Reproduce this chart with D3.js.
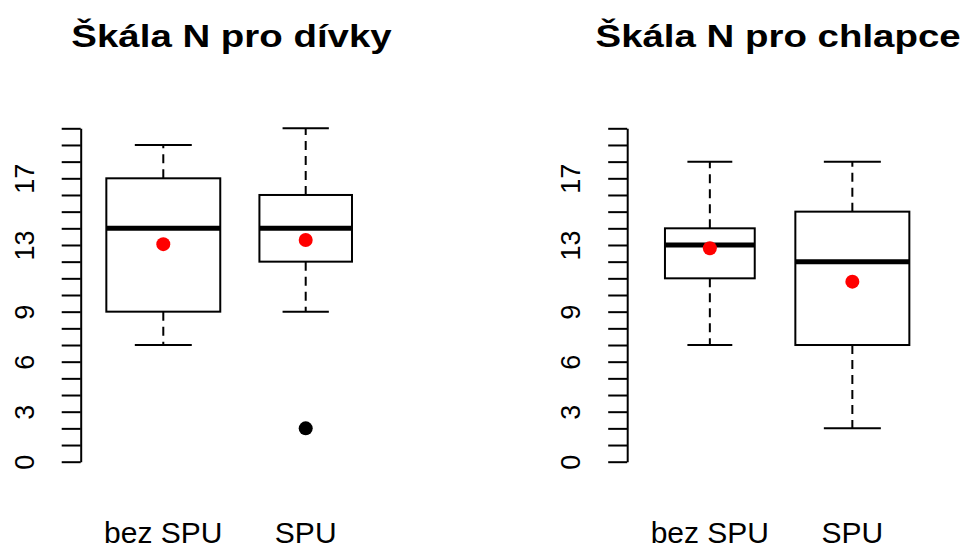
<!DOCTYPE html>
<html>
<head>
<meta charset="utf-8">
<script src="https://cdn.jsdelivr.net/npm/d3@7"></script>
<style>
  body { margin: 0; background: #fff; }
  svg { display: block; }
</style>
</head>
<body>
<div id="chart"></div>
<script>
// data
const groups = ["bez SPU", "SPU"]
const yTickLabels = [0, 3, 6, 9, 13, 17]
const yTicks = [0, 1, 2, 3, 4, 5, 6, 7, 8, 9, 10, 11, 12, 13, 14, 15, 16, 17, 18, 19, 20]

const girlsTitle = "Škála N pro dívky"
const girlsLow = [7, 9]
const girlsQ1 = [9, 12]
const girlsMedian = [14, 14]
const girlsQ3 = [17, 16]
const girlsHigh = [19, 20]
const girlsMean = [13.05, 13.3]
const girlsOutliers = [[], [2]]

const boysTitle = "Škála N pro chlapce"
const boysLow = [7, 2]
const boysQ1 = [11, 7]
const boysMedian = [13, 12]
const boysQ3 = [14, 15]
const boysHigh = [18, 18]
const boysMean = [12.8, 10.8]
const boysOutliers = [[], []]

const WIDTH = 967
const HEIGHT = 551
const FONT = "'Liberation Sans', Arial, sans-serif"

// relative box widths (varwidth look)
const girlsBoxW = [0.8, 0.65]
const boysBoxW = [0.63, 0.8]

const svg = d3.select("#chart")
    .append("svg")
        .attr("width", WIDTH)
        .attr("height", HEIGHT)

const y = d3.scaleLinear()
    .domain([0, 20])
    .range([461.7, 128.3])

function toRows(low, q1, med, q3, high, mean, outs, widths) {
    return groups.map((g, i) => ({
        group: g, low: low[i], q1: q1[i], median: med[i], q3: q3[i],
        high: high[i], mean: mean[i], outliers: outs[i], w: widths[i]
    }))
}

const panels = [
    { title: girlsTitle, left: 80.7, right: 388.3,
      rows: toRows(girlsLow, girlsQ1, girlsMedian, girlsQ3, girlsHigh, girlsMean, girlsOutliers, girlsBoxW) },
    { title: boysTitle, left: 627.2, right: 935,
      rows: toRows(boysLow, boysQ1, boysMedian, boysQ3, boysHigh, boysMean, boysOutliers, boysBoxW) }
]

panels.forEach(p => {
    const g = svg.append("g")

    const x = d3.scaleLinear()
        .domain([0.42, 2.58])
        .range([p.left, p.right])
    const unit = x(2) - x(1)
    const cx = d => x(groups.indexOf(d.group) + 1)

    // title
    g.append("text")
        .attr("transform", `translate(${(p.left + p.right) / 2 - 3}, 47) scale(1.24, 1)`)
        .attr("text-anchor", "middle")
        .attr("font-family", FONT)
        .attr("font-weight", "bold")
        .attr("font-size", 31)
        .text(p.title)

    // y axis
    const yAxisCall = d3.axisLeft(y)
        .tickValues(yTicks)
        .tickSize(19)
        .tickSizeOuter(0)
        .tickFormat(d => yTickLabels.includes(d) ? d : "")
    const ax = g.append("g")
        .attr("transform", `translate(${p.left}, 0)`)
        .call(yAxisCall)
    ax.select(".domain").attr("stroke-width", 2)
    ax.selectAll(".tick line").attr("stroke-width", 2)
    ax.selectAll(".tick text")
        .attr("x", null).attr("dy", null)
        .attr("transform", "translate(-47, 0) rotate(-90)")
        .attr("text-anchor", "middle")
        .attr("font-family", FONT)
        .attr("font-size", 27)
        .attr("fill", "#000")

    // x labels
    g.selectAll(".xlab")
        .data(p.rows)
        .enter().append("text")
            .attr("x", cx)
            .attr("y", 543)
            .attr("text-anchor", "middle")
            .attr("font-family", FONT)
            .attr("font-size", 30)
            .text(d => d.group)

    const box = g.selectAll(".box")
        .data(p.rows)
        .enter().append("g")

    // whiskers
    box.append("line")
        .attr("x1", cx).attr("x2", cx)
        .attr("y1", d => y(d.q3)).attr("y2", d => y(d.high))
        .attr("stroke", "#000").attr("stroke-width", 2)
        .attr("stroke-dasharray", "9,6")
    box.append("line")
        .attr("x1", cx).attr("x2", cx)
        .attr("y1", d => y(d.q1)).attr("y2", d => y(d.low))
        .attr("stroke", "#000").attr("stroke-width", 2)
        .attr("stroke-dasharray", "9,6")

    // caps
    ;["high", "low"].forEach(k => {
        box.append("line")
            .attr("x1", d => cx(d) - d.w * unit / 4)
            .attr("x2", d => cx(d) + d.w * unit / 4)
            .attr("y1", d => y(d[k])).attr("y2", d => y(d[k]))
            .attr("stroke", "#000").attr("stroke-width", 2)
    })

    // box
    box.append("rect")
        .attr("x", d => cx(d) - d.w * unit / 2)
        .attr("width", d => d.w * unit)
        .attr("y", d => y(d.q3))
        .attr("height", d => y(d.q1) - y(d.q3))
        .attr("fill", "#fff")
        .attr("stroke", "#000").attr("stroke-width", 2)

    // median
    box.append("line")
        .attr("x1", d => cx(d) - d.w * unit / 2)
        .attr("x2", d => cx(d) + d.w * unit / 2)
        .attr("y1", d => y(d.median)).attr("y2", d => y(d.median))
        .attr("stroke", "#000").attr("stroke-width", 5)

    // outliers
    box.selectAll(".out")
        .data(d => d.outliers.map(v => ({ v, c: cx(d) })))
        .enter().append("circle")
            .attr("cx", d => d.c)
            .attr("cy", d => y(d.v))
            .attr("r", 7)
            .attr("fill", "#000")

    // mean
    box.append("circle")
        .attr("cx", cx)
        .attr("cy", d => y(d.mean))
        .attr("r", 7)
        .attr("fill", "red")
})
</script>
</body>
</html>
